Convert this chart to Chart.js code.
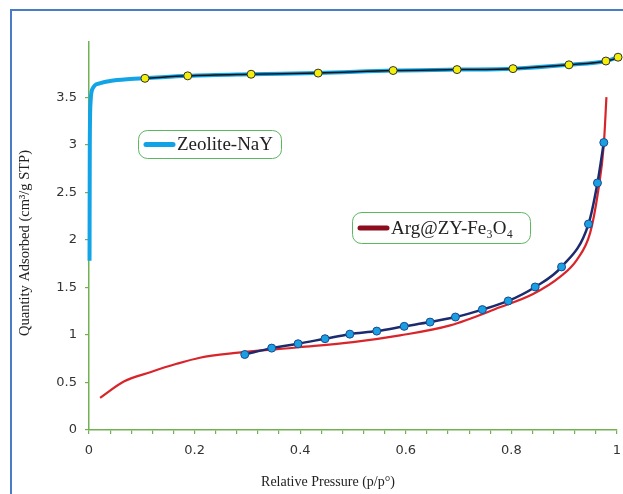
<!DOCTYPE html>
<html>
<head>
<meta charset="utf-8">
<script src="https://cdn.jsdelivr.net/npm/chart.js@4.4.1/dist/chart.umd.min.js"></script>
<style>
  html, body { margin: 0; padding: 0; background: #fff; overflow: hidden; }
</style>
</head>
<body>
<canvas id="grafico" width="623" height="494"></canvas>
<script>
// Zeolite-NaY: curva continua (azul) y puntos medidos (amarillos)
const zeoliteCurvaX = [0.001, 0.0015, 0.003, 0.006, 0.02, 0.04, 0.078, 0.106, 0.187, 0.307, 0.434, 0.576, 0.697, 0.803, 0.909, 0.979, 1.002];
const zeoliteCurvaY = [1.78, 3.0, 3.45, 3.58, 3.645, 3.67, 3.69, 3.698, 3.724, 3.741, 3.753, 3.78, 3.79, 3.80, 3.84, 3.88, 3.92];
const zeolitePuntosX = [0.106, 0.187, 0.307, 0.434, 0.576, 0.697, 0.803, 0.909, 0.979, 1.002, 1.010];
const zeolitePuntosY = [3.698, 3.724, 3.741, 3.753, 3.78, 3.79, 3.80, 3.84, 3.88, 3.92, 3.97];

// Arg@ZY-Fe3O4: curva continua (roja) y puntos medidos (azules)
const argCurvaX = [0.021, 0.066, 0.116, 0.166, 0.21, 0.273, 0.398, 0.5, 0.589, 0.684, 0.778, 0.841, 0.892, 0.924, 0.949, 0.964, 0.975, 0.980];
const argCurvaY = [0.338, 0.51, 0.608, 0.696, 0.76, 0.808, 0.87, 0.924, 0.995, 1.10, 1.29, 1.43, 1.61, 1.79, 2.07, 2.5, 3.0, 3.5];
const argPuntosX = [0.295, 0.346, 0.396, 0.447, 0.494, 0.545, 0.597, 0.646, 0.694, 0.745, 0.794, 0.845, 0.895, 0.946, 0.963, 0.975];
const argPuntosY = [0.794, 0.861, 0.907, 0.96, 1.008, 1.04, 1.09, 1.135, 1.188, 1.266, 1.357, 1.504, 1.715, 2.166, 2.598, 3.023];

// Ticks
const ticksY = [0, 0.5, 1, 1.5, 2, 2.5, 3, 3.5];
const ticksXEtiqueta = [0, 0.2, 0.4, 0.6, 0.8, 1];

const pares = (xs, ys) => xs.map((x, i) => ({ x: x, y: ys[i] }));

const verde = '#72b152';
const serif = "'Liberation Serif', 'Times New Roman', serif";

// Marco, títulos de ejes y cuadros de leyenda
const decorado = {
  id: 'decorado',
  beforeDraw(chart) {
    const ctx = chart.ctx;
    ctx.save();
    ctx.fillStyle = '#fff';
    ctx.fillRect(0, 0, chart.width, chart.height);
    ctx.strokeStyle = '#4a7bc8';
    ctx.lineWidth = 2;
    ctx.beginPath();
    ctx.moveTo(11, chart.height);
    ctx.lineTo(11, 10);
    ctx.lineTo(chart.width, 10);
    ctx.stroke();
    ctx.restore();
  },
  afterDraw(chart) {
    const ctx = chart.ctx;
    ctx.save();
    ctx.fillStyle = '#222';
    ctx.textAlign = 'center';
    ctx.textBaseline = 'middle';

    ctx.font = '14px ' + serif;
    ctx.fillText('Relative Pressure (p/p°)', 328, 482);

    ctx.save();
    ctx.translate(25, 243);
    ctx.rotate(-Math.PI / 2);
    ctx.font = '14.5px ' + serif;
    ctx.fillText('Quantity Adsorbed (cm³/g STP)', 0, 0);
    ctx.restore();

    const caja = (x, y, w, h, color, texto) => {
      ctx.fillStyle = '#fff';
      ctx.strokeStyle = '#5cb860';
      ctx.lineWidth = 1;
      ctx.beginPath();
      ctx.roundRect(x + 0.5, y + 0.5, w, h, 9);
      ctx.fill();
      ctx.stroke();
      ctx.strokeStyle = color;
      ctx.lineWidth = 5;
      ctx.lineCap = 'round';
      ctx.beginPath();
      ctx.moveTo(x + 8, y + h / 2 + 0.5);
      ctx.lineTo(x + 35, y + h / 2 + 0.5);
      ctx.stroke();
      ctx.fillStyle = '#222';
      ctx.textAlign = 'left';
      ctx.font = '19px ' + serif;
      ctx.fillText(texto, x + 39, y + h / 2 + 1.5);
    };
    caja(138, 130, 143, 28, '#10a2e6', 'Zeolite-NaY');
    caja(352, 212, 178, 31, '#8c0d1e', 'Arg@ZY-Fe₃O₄');
    ctx.restore();
  }
};

new Chart(document.getElementById('grafico'), {
  type: 'scatter',
  data: {
    datasets: [
      {
        label: 'Zeolite-NaY puntos',
        data: pares(zeolitePuntosX, zeolitePuntosY),
        showLine: true,
        borderColor: '#111',
        borderWidth: 1.5,
        pointRadius: 4,
        pointBackgroundColor: '#f4ef0a',
        pointBorderColor: '#333',
        pointBorderWidth: 1,
        cubicInterpolationMode: 'monotone',
        clip: false
      },
      {
        label: 'Arg@ZY-Fe3O4 puntos',
        data: pares(argPuntosX, argPuntosY),
        showLine: true,
        borderColor: '#1c2a6e',
        borderWidth: 2.5,
        pointRadius: 4,
        pointBackgroundColor: '#1a9fe2',
        pointBorderColor: '#1c4a8e',
        pointBorderWidth: 1,
        cubicInterpolationMode: 'monotone'
      },
      {
        label: 'Zeolite-NaY',
        data: pares(zeoliteCurvaX, zeoliteCurvaY),
        showLine: true,
        borderColor: '#12a4e6',
        borderWidth: 4,
        pointRadius: 0,
        cubicInterpolationMode: 'monotone',
        clip: false
      },
      {
        label: 'Arg@ZY-Fe3O4',
        data: pares(argCurvaX, argCurvaY),
        showLine: true,
        borderColor: '#d8252b',
        borderWidth: 2.2,
        pointRadius: 0,
        cubicInterpolationMode: 'monotone'
      }
    ]
  },
  options: {
    responsive: false,
    animation: false,
    layout: { autoPadding: false, padding: { left: 0, top: 42, right: 6, bottom: 0 } },
    plugins: {
      legend: { display: false },
      tooltip: { enabled: false }
    },
    scales: {
      x: {
        type: 'linear',
        min: 0,
        max: 1,
        afterFit: s => { s.height = 64; },
        border: { color: verde, width: 1.5 },
        grid: { drawOnChartArea: false, drawTicks: true, tickLength: 4, color: verde, lineWidth: 1.2 },
        ticks: {
          stepSize: 0.04,
          autoSkip: false,
          maxRotation: 0,
          padding: 0,
          color: '#333',
          // lineHeight alto para bajar las etiquetas sin añadir padding lateral
          font: { family: 'DejaVu Sans', size: 13, lineHeight: 2.6 },
          callback: v => {
            const e = ticksXEtiqueta.find(t => Math.abs(t - v) < 1e-6);
            return e === undefined ? '' : String(e);
          }
        }
      },
      y: {
        type: 'linear',
        min: 0,
        max: 4.08,
        afterFit: s => { s.width = 89; },
        afterBuildTicks: s => { s.ticks = ticksY.map(v => ({ value: v })); },
        border: { color: verde, width: 1.5 },
        grid: { drawOnChartArea: false, drawTicks: true, tickLength: 4, color: verde, lineWidth: 1.2 },
        ticks: {
          padding: 8,
          color: '#333',
          font: { family: 'DejaVu Sans', size: 13 },
          callback: v => String(v)
        }
      }
    }
  },
  plugins: [decorado]
});
</script>
</body>
</html>
